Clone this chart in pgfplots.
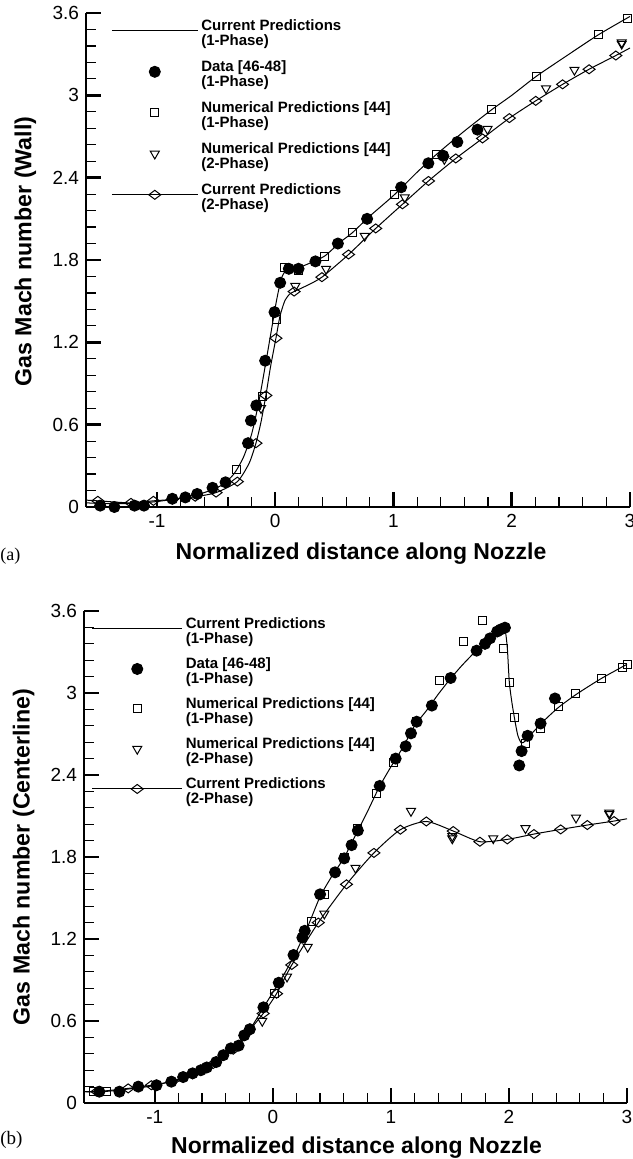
\documentclass[border=0pt]{standalone}
\usepackage{fontspec}
\setmainfont{Liberation Sans}
\newfontfamily\panelfont{Liberation Serif}
\usepackage{pgfplots}
\pgfplotsset{compat=1.18}

% two-line legend text, aligned on its first baseline
\newcommand{\twol}[2]{\vtop{\lineskiplimit=-\maxdimen\hbox{#1}\hbox{#2}}}
\newlength{\lgl}

\pgfplotsset{
  nozzle/.style={
    scale only axis,
    xmin=-1.6, xmax=3, ymin=0, ymax=3.6,
    axis x line=bottom, axis y line=left,
    axis line style={-, line width=1.25pt, black},
    xtick={-1,0,1,2,3}, ytick={0,0.6,1.2,1.8,2.4,3,3.6},
    minor x tick num=4, minor y tick num=4,
    tick align=inside,
    major tick length=7.5pt, minor tick length=5pt,
    major tick style={line width=1.25pt, black},
    minor tick style={line width=0.6pt, black},
    tick label style={font=\fontsize{9.5}{11}\selectfont},
    /pgf/number format/assume math mode=true,
    clip=false,
    legend style={anchor=north west, draw=none, fill=none,
      inner sep=0pt, outer sep=0pt, column sep=1.5pt,
      nodes={inner sep=0pt, outer sep=0pt},
      cells={anchor=base west},
      font=\fontsize{7.5}{7.25}\selectfont\bfseries},
  },
  lgimg/.style={legend image code/.code={%
    \draw[mark repeat=2,mark phase=2,##1] plot coordinates {(0pt,0pt) (0.5\lgl,0pt) (\lgl,0pt)};}},
  cur1/.style={black, line width=0.5pt, smooth, tension=0.4, no marks, lgimg},
  cur2/.style={black, line width=0.5pt, smooth, tension=0.4, no marks},
  dat/.style={only marks, mark=*, mark size=2.75pt, black, mark options={fill=black, line width=0.5pt}, lgimg},
  num1/.style={only marks, mark=square, mark size=2.0pt, black, mark options={line width=0.5pt}, lgimg},
  num2/.style={only marks, mark=triangle, mark size=2.6pt, black, mark options={rotate=180, line width=0.5pt}, lgimg},
  dia/.style={only marks, mark=diamond, mark size=3.0pt, black, mark options={rotate=90, line width=0.5pt}},
  dialeg/.style={black, line width=0.5pt, mark=diamond, mark size=3.0pt, mark options={rotate=90, line width=0.5pt}, lgimg},
}

\begin{document}
\begin{tikzpicture}
\path[use as bounding box] (0,0) rectangle (316pt,-579.5pt);

% ---------------- (a) wall ----------------
\setlength{\lgl}{43pt}
\begin{axis}[nozzle, at={(43pt,-253.5pt)}, anchor=south west,
  width=272pt, height=247pt,
  legend style={at={(0.0465,0.986)}, row sep={20.5pt,between origins}}]
\addplot[cur1] coordinates {(-1.6,0.03)(-1.4,0.025)(-1.2,0.025)(-1.0,0.04)(-0.8,0.065)(-0.6,0.105)(-0.45,0.16)(-0.35,0.24)(-0.27,0.36)(-0.2,0.53)(-0.14,0.76)(-0.08,1.05)(-0.03,1.30)(0.01,1.50)(0.05,1.66)(0.09,1.725)(0.14,1.74)(0.2,1.745)(0.3,1.78)(0.42,1.83)(0.55,1.93)(0.654,2.0)(0.8,2.12)(1.0,2.27)(1.2,2.44)(1.364,2.57)(1.6,2.74)(1.83,2.895)(2.0,3.0)(2.21,3.14)(2.45,3.28)(2.73,3.44)(3.0,3.575)};
\addlegendentry{\twol{Current Predictions}{(1-Phase)}}
\addplot[dat] coordinates {(-1.48,0.01)(-1.36,0.0)(-1.19,0.01)(-1.11,0.01)(-0.87,0.06)(-0.76,0.07)(-0.66,0.095)(-0.53,0.14)(-0.42,0.18)(-0.23,0.465)(-0.205,0.63)(-0.16,0.74)(-0.085,1.066)(-0.006,1.42)(0.042,1.634)(0.115,1.736)(0.197,1.736)(0.34,1.79)(0.53,1.92)(0.777,2.10)(1.065,2.33)(1.295,2.505)(1.42,2.56)(1.54,2.66)(1.71,2.75)};
\addlegendentry{\twol{Data [46-48]}{(1-Phase)}}
\addplot[num1] coordinates {(-0.33,0.27)(-0.107,0.806)(0.014,1.37)(0.08,1.744)(0.195,1.725)(0.42,1.825)(0.654,2.0)(1.012,2.28)(1.364,2.571)(1.83,2.895)(2.21,3.14)(2.73,3.44)(2.98,3.56)};
\addlegendentry{\twol{Numerical Predictions [44]}{(1-Phase)}}
\addplot[num2] coordinates {(-0.12,0.72)(0.17,1.61)(0.43,1.735)(0.757,1.975)(1.095,2.256)(1.43,2.535)(1.795,2.754)(2.29,3.05)(2.53,3.185)(2.93,3.375)(2.93,3.385)};
\addlegendentry{\twol{Numerical Predictions [44]}{(2-Phase)}}
\addplot[cur2, forget plot] coordinates {(-1.6,0.05)(-1.5,0.045)(-1.22,0.03)(-1.03,0.045)(-0.87,0.055)(-0.676,0.075)(-0.5,0.105)(-0.32,0.185)(-0.22,0.32)(-0.163,0.465)(-0.12,0.62)(-0.079,0.813)(-0.04,1.02)(0.006,1.23)(0.04,1.39)(0.08,1.50)(0.12,1.55)(0.16,1.57)(0.27,1.615)(0.395,1.675)(0.62,1.84)(0.85,2.03)(1.076,2.206)(1.296,2.376)(1.527,2.54)(1.753,2.686)(1.98,2.834)(2.203,2.96)(2.43,3.08)(2.654,3.19)(2.88,3.29)(3.0,3.345)};
\addplot[dia, forget plot] coordinates {(-1.5,0.045)(-1.22,0.03)(-1.03,0.045)(-0.87,0.055)(-0.676,0.075)(-0.5,0.105)(-0.32,0.185)(-0.163,0.465)(-0.079,0.813)(0.006,1.23)(0.16,1.57)(0.395,1.675)(0.62,1.84)(0.85,2.03)(1.076,2.206)(1.296,2.376)(1.527,2.54)(1.753,2.686)(1.98,2.834)(2.203,2.96)(2.43,3.08)(2.654,3.19)(2.88,3.29)};
\addlegendimage{dialeg}
\addlegendentry{\twol{Current Predictions}{(2-Phase)}}
\end{axis}

% ---------------- (b) centerline ----------------
\setlength{\lgl}{45pt}
\begin{axis}[nozzle, at={(42pt,-551.5pt)}, anchor=south west,
  width=271.5pt, height=246pt,
  legend style={at={(0.0143,0.9856)}, row sep={20pt,between origins}}]
\addplot[cur1] coordinates {(-1.6,0.083)(-1.4,0.086)(-1.2,0.105)(-1.0,0.128)(-0.8,0.175)(-0.6,0.245)(-0.45,0.325)(-0.3,0.42)(-0.2,0.53)(-0.1,0.67)(0.0,0.81)(0.1,0.95)(0.2,1.11)(0.3,1.30)(0.4,1.51)(0.5,1.66)(0.6,1.79)(0.7,1.96)(0.8,2.13)(0.9,2.31)(1.0,2.46)(1.1,2.60)(1.2,2.76)(1.3,2.87)(1.4,2.99)(1.5,3.10)(1.6,3.20)(1.7,3.29)(1.8,3.37)(1.88,3.43)(1.93,3.465)(1.955,3.48)(1.972,3.44)(1.987,3.32)(2.003,3.08)(2.025,2.93)(2.05,2.80)(2.075,2.69)(2.105,2.635)(2.14,2.65)(2.2,2.71)(2.3,2.80)(2.42,2.895)(2.57,2.99)(2.78,3.105)(3.0,3.21)};
\addlegendentry{\twol{Current Predictions}{(1-Phase)}}
\addplot[dat] coordinates {(-1.47,0.083)(-1.30,0.083)(-1.14,0.12)(-0.986,0.13)(-0.86,0.156)(-0.76,0.19)(-0.68,0.217)(-0.61,0.24)(-0.56,0.26)(-0.48,0.30)(-0.42,0.35)(-0.356,0.40)(-0.29,0.42)(-0.243,0.495)(-0.195,0.54)(-0.08,0.70)(0.05,0.88)(0.175,1.083)(0.25,1.21)(0.27,1.26)(0.40,1.527)(0.527,1.688)(0.604,1.79)(0.667,1.887)(0.72,1.994)(0.905,2.32)(1.04,2.52)(1.125,2.61)(1.17,2.705)(1.218,2.79)(1.347,2.908)(1.506,3.11)(1.726,3.31)(1.797,3.36)(1.84,3.40)(1.90,3.45)(1.93,3.465)(1.966,3.478)(2.087,2.47)(2.107,2.575)(2.158,2.687)(2.268,2.777)(2.39,2.96)};
\addlegendentry{\twol{Data [46-48]}{(1-Phase)}}
\addplot[num1] coordinates {(-1.52,0.083)(-1.41,0.083)(0.01,0.80)(0.328,1.326)(0.44,1.527)(0.61,1.80)(0.715,2.01)(0.875,2.268)(1.025,2.49)(1.218,2.79)(1.415,3.094)(1.613,3.375)(1.78,3.533)(1.952,3.326)(2.003,3.08)(2.05,2.82)(2.14,2.63)(2.263,2.74)(2.418,2.90)(2.565,2.997)(2.78,3.107)(2.96,3.187)(3.0,3.21)};
\addlegendentry{\twol{Numerical Predictions [44]}{(1-Phase)}}
\addplot[num2] coordinates {(-0.09,0.60)(0.12,0.924)(0.295,1.142)(0.436,1.385)(0.70,1.72)(1.17,2.136)(1.52,1.953)(1.52,1.935)(1.867,1.936)(2.14,2.01)(2.568,2.087)(2.85,2.124)(2.85,2.114)};
\addlegendentry{\twol{Numerical Predictions [44]}{(2-Phase)}}
\addplot[cur2, forget plot] coordinates {(-1.6,0.083)(-1.49,0.083)(-1.226,0.107)(-1.03,0.13)(-0.85,0.16)(-0.68,0.21)(-0.506,0.285)(-0.336,0.39)(-0.21,0.52)(-0.082,0.655)(0.031,0.80)(0.16,1.01)(0.385,1.32)(0.624,1.60)(0.856,1.83)(1.08,2.0)(1.30,2.06)(1.528,1.99)(1.754,1.912)(1.986,1.929)(2.212,1.968)(2.438,2.002)(2.664,2.034)(2.89,2.063)(3.0,2.08)};
\addplot[dia, forget plot] coordinates {(-1.49,0.083)(-1.226,0.107)(-1.03,0.13)(-0.85,0.16)(-0.68,0.21)(-0.506,0.285)(-0.336,0.39)(-0.21,0.52)(-0.082,0.655)(0.031,0.80)(0.16,1.01)(0.385,1.32)(0.624,1.60)(0.856,1.83)(1.08,2.0)(1.30,2.06)(1.528,1.99)(1.754,1.912)(1.986,1.929)(2.212,1.968)(2.438,2.002)(2.664,2.034)(2.89,2.063)};
\addlegendimage{dialeg}
\addlegendentry{\twol{Current Predictions}{(2-Phase)}}
\end{axis}

% axis titles and panel letters
\node[rotate=90, anchor=base, font=\fontsize{11.6}{13}\selectfont\bfseries] at (15.75pt,-125.75pt) {Gas Mach number (Wall)};
\node[rotate=90, anchor=base, font=\fontsize{11.6}{13}\selectfont\bfseries] at (14.75pt,-428.5pt) {Gas Mach number (Centerline)};
\node[anchor=base, font=\fontsize{11.5}{13}\selectfont\bfseries] at (180.5pt,-279.75pt) {Normalized distance along Nozzle};
\node[anchor=base, font=\fontsize{11.5}{13}\selectfont\bfseries] at (178.25pt,-576.75pt) {Normalized distance along Nozzle};
\node[anchor=base west, inner sep=0pt, font=\fontsize{9}{11}\panelfont] at (0pt,-280pt) {(a)};
\node[anchor=base west, inner sep=0pt, font=\fontsize{9.5}{11}\panelfont] at (0pt,-572.25pt) {(b)};
\end{tikzpicture}
\end{document}
